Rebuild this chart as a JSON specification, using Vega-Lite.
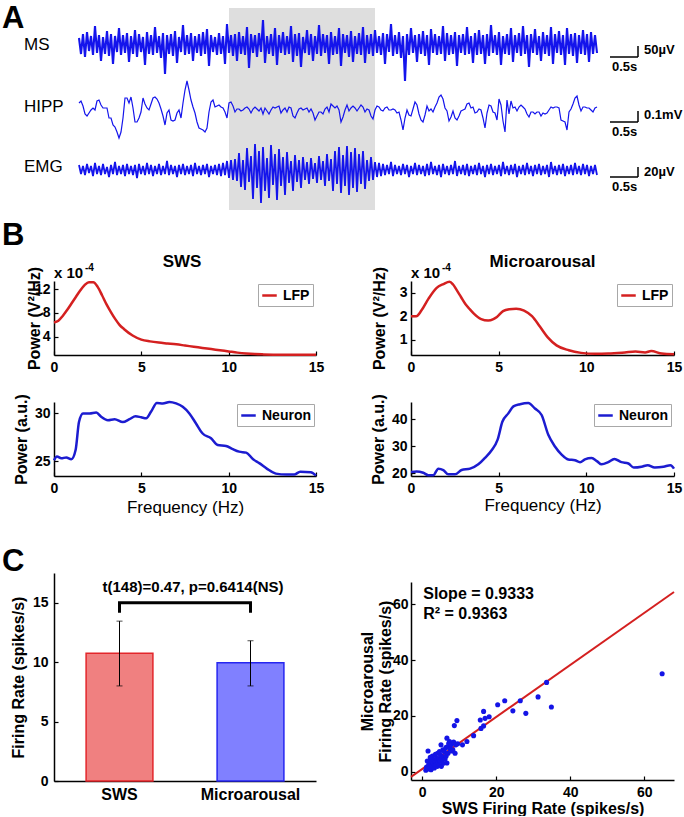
{
"$schema":"https://vega.github.io/schema/vega-lite/v6.json",
"padding":0,
"background":"white",
"config":{
 "font":"Liberation Sans",
 "view":{"stroke":null},
 "axis":{"domainColor":"black","domainWidth":1.5,"tickColor":"black","tickWidth":1.2,"tickSize":-4,"labelColor":"black","labelFontSize":14,"labelFontWeight":"bold","labelFlush":false,"labelOverlap":false,"titleColor":"black","titleFontSize":16,"titleFontWeight":"bold","grid":false},
 "legend":{"symbolType":"stroke","symbolStrokeWidth":2.5,"symbolSize":210,"labelFontSize":14,"labelFontWeight":"bold","labelColor":"black","padding":3,"strokeColor":"#a8a8a8","fillColor":"white","labelOffset":5,"cornerRadius":0}
},
"datasets":{"traces":[
{"i":0,"m":17.2,"h":10.7,"e":4.5},{"i":1,"m":15.6,"h":10.9,"e":3.6},{"i":2,"m":17.6,"h":10.4,"e":4.4},{"i":3,"m":15.3,"h":9.6,"e":3.5},{"i":4,"m":17.8,"h":9.4,"e":4.6},{"i":5,"m":15.9,"h":9.7,"e":3.7},{"i":6,"m":17.4,"h":10.0,"e":4.4},{"i":7,"m":15.5,"h":10.2,"e":3.4},{"i":8,"m":18.4,"h":10.0,"e":4.7},{"i":9,"m":15.7,"h":10.9,"e":3.6},
{"i":10,"m":17.5,"h":11.0,"e":4.4},{"i":11,"m":14.9,"h":10.5,"e":3.5},{"i":12,"m":17.3,"h":10.2,"e":4.6},{"i":13,"m":15.6,"h":10.2,"e":3.6},{"i":14,"m":17.9,"h":10.2,"e":4.3},{"i":15,"m":15.4,"h":9.2,"e":3.3},{"i":16,"m":17.6,"h":9.2,"e":4.5},{"i":17,"m":14.6,"h":8.5,"e":3.6},{"i":18,"m":17.4,"h":8.3,"e":4.8},{"i":19,"m":15.8,"h":7.8,"e":3.5},
{"i":20,"m":18.2,"h":7.2,"e":4.4},{"i":21,"m":15.5,"h":7.8,"e":3.6},{"i":22,"m":17.5,"h":9.2,"e":4.5},{"i":23,"m":15.7,"h":11.2,"e":3.4},{"i":24,"m":17.7,"h":11.2,"e":4.6},{"i":25,"m":14.8,"h":10.7,"e":3.6},{"i":26,"m":17.4,"h":11.3,"e":4.4},{"i":27,"m":15.6,"h":10.2,"e":3.5},{"i":28,"m":18.0,"h":8.8,"e":4.5},{"i":29,"m":15.3,"h":8.8,"e":3.2},
{"i":30,"m":17.6,"h":9.2,"e":4.6},{"i":31,"m":15.8,"h":9.8,"e":3.6},{"i":32,"m":17.3,"h":11.2,"e":4.4},{"i":33,"m":14.5,"h":10.6,"e":3.5},{"i":34,"m":17.8,"h":10.2,"e":4.7},{"i":35,"m":15.6,"h":10.0,"e":3.6},{"i":36,"m":17.5,"h":10.6,"e":4.5},{"i":37,"m":15.5,"h":11.2,"e":3.4},{"i":38,"m":18.3,"h":11.3,"e":4.4},{"i":39,"m":15.7,"h":11.1,"e":3.6},
{"i":40,"m":17.4,"h":10.7,"e":4.6},{"i":41,"m":15.2,"h":10.1,"e":3.5},{"i":42,"m":17.7,"h":9.4,"e":4.4},{"i":43,"m":13.6,"h":8.5,"e":3.6},{"i":44,"m":17.5,"h":9.7,"e":4.9},{"i":45,"m":15.6,"h":10.0,"e":3.5},{"i":46,"m":17.6,"h":9.0,"e":4.5},{"i":47,"m":15.4,"h":8.9,"e":3.6},{"i":48,"m":17.9,"h":9.0,"e":4.4},{"i":49,"m":14.7,"h":9.7,"e":3.3},
{"i":50,"m":17.3,"h":10.0,"e":4.5},{"i":51,"m":15.8,"h":9.2,"e":3.6},{"i":52,"m":18.5,"h":10.7,"e":4.6},{"i":53,"m":15.5,"h":12.0,"e":3.5},{"i":54,"m":17.5,"h":12.9,"e":4.4},{"i":55,"m":15.6,"h":12.0,"e":3.6},{"i":56,"m":17.7,"h":11.0,"e":4.5},{"i":57,"m":14.9,"h":10.3,"e":3.4},{"i":58,"m":17.4,"h":9.7,"e":4.7},{"i":59,"m":15.7,"h":8.8,"e":3.6},
{"i":60,"m":17.6,"h":8.2,"e":4.4},{"i":61,"m":15.4,"h":8.1,"e":3.5},{"i":62,"m":17.8,"h":8.0,"e":4.5},{"i":63,"m":15.6,"h":7.8,"e":3.6},{"i":64,"m":18.1,"h":8.2,"e":4.6},{"i":65,"m":14.4,"h":9.8,"e":3.3},{"i":66,"m":17.5,"h":10.8,"e":4.4},{"i":67,"m":15.8,"h":11.0,"e":3.6},{"i":68,"m":17.3,"h":10.3,"e":4.5},{"i":69,"m":15.5,"h":10.4,"e":3.5},
{"i":70,"m":17.7,"h":10.5,"e":4.6},{"i":71,"m":15.6,"h":10.3,"e":3.4},{"i":72,"m":17.4,"h":10.2,"e":4.7},{"i":73,"m":14.6,"h":9.8,"e":3.5},{"i":74,"m":18.6,"h":9.2,"e":4.9},{"i":75,"m":15.7,"h":10.7,"e":3.2},{"i":76,"m":17.5,"h":10.8,"e":5.0},{"i":77,"m":15.4,"h":10.4,"e":3.0},{"i":78,"m":17.6,"h":9.8,"e":5.1},{"i":79,"m":14.9,"h":10.1,"e":2.9},
{"i":80,"m":17.8,"h":10.1,"e":5.7},{"i":81,"m":15.6,"h":9.9,"e":2.3},{"i":82,"m":17.4,"h":10.0,"e":5.0},{"i":83,"m":15.5,"h":10.2,"e":2.0},{"i":84,"m":18.3,"h":10.3,"e":6.2},{"i":85,"m":14.2,"h":10.1,"e":2.8},{"i":86,"m":17.6,"h":9.7,"e":5.4},{"i":87,"m":15.7,"h":10.1,"e":1.1},{"i":88,"m":17.5,"h":10.3,"e":6.6},{"i":89,"m":15.3,"h":10.1,"e":2.2},
{"i":90,"m":17.7,"h":9.9,"e":5.9},{"i":91,"m":15.8,"h":10.2,"e":0.7},{"i":92,"m":19.0,"h":9.6,"e":6.3},{"i":93,"m":14.7,"h":10.2,"e":1.9},{"i":94,"m":17.4,"h":9.9,"e":5.2},{"i":95,"m":15.6,"h":9.6,"e":1.2},{"i":96,"m":17.6,"h":10.0,"e":6.5},{"i":97,"m":15.4,"h":10.3,"e":2.5},{"i":98,"m":18.2,"h":10.2,"e":5.6},{"i":99,"m":14.5,"h":10.3,"e":1.0},
{"i":100,"m":17.5,"h":10.4,"e":6.1},{"i":101,"m":15.7,"h":9.7,"e":2.4},{"i":102,"m":17.8,"h":10.0,"e":5.3},{"i":103,"m":15.5,"h":10.2,"e":1.5},{"i":104,"m":17.4,"h":9.8,"e":5.8},{"i":105,"m":15.6,"h":10.3,"e":2.7},{"i":106,"m":18.4,"h":10.2,"e":4.9},{"i":107,"m":14.8,"h":9.4,"e":1.9},{"i":108,"m":17.6,"h":9.2,"e":5.5},{"i":109,"m":15.4,"h":9.7,"e":2.8},
{"i":110,"m":17.7,"h":10.1,"e":5.0},{"i":111,"m":14.3,"h":10.2,"e":2.2},{"i":112,"m":17.3,"h":10.0,"e":5.3},{"i":113,"m":15.7,"h":10.1,"e":3.0},{"i":114,"m":18.0,"h":10.2,"e":4.8},{"i":115,"m":15.5,"h":9.8,"e":2.6},{"i":116,"m":17.6,"h":10.1,"e":5.2},{"i":117,"m":14.9,"h":9.7,"e":3.1},{"i":118,"m":17.4,"h":9.0,"e":4.7},{"i":119,"m":15.6,"h":9.4,"e":2.7},
{"i":120,"m":18.5,"h":9.8,"e":5.4},{"i":121,"m":15.4,"h":9.8,"e":3.0},{"i":122,"m":17.6,"h":9.6,"e":4.9},{"i":123,"m":15.7,"h":10.1,"e":2.4},{"i":124,"m":17.5,"h":10.3,"e":5.6},{"i":125,"m":14.6,"h":9.8,"e":2.9},{"i":126,"m":17.8,"h":10.6,"e":5.1},{"i":127,"m":15.5,"h":10.4,"e":1.9},{"i":128,"m":17.4,"h":10.2,"e":5.9},{"i":129,"m":15.6,"h":10.4,"e":2.6},
{"i":130,"m":18.2,"h":10.0,"e":6.3},{"i":131,"m":14.4,"h":8.8,"e":1.7},{"i":132,"m":17.6,"h":9.3,"e":5.5},{"i":133,"m":15.7,"h":10.0,"e":2.4},{"i":134,"m":17.5,"h":10.5,"e":6.4},{"i":135,"m":15.3,"h":9.9,"e":1.5},{"i":136,"m":17.9,"h":10.2,"e":5.8},{"i":137,"m":14.8,"h":10.4,"e":2.2},{"i":138,"m":17.4,"h":10.2,"e":6.2},{"i":139,"m":15.6,"h":9.9,"e":1.8},
{"i":140,"m":17.7,"h":10.2,"e":5.6},{"i":141,"m":15.5,"h":10.5,"e":2.6},{"i":142,"m":18.3,"h":10.3,"e":5.9},{"i":143,"m":14.7,"h":9.8,"e":2.1},{"i":144,"m":17.5,"h":10.1,"e":5.0},{"i":145,"m":15.6,"h":10.0,"e":2.9},{"i":146,"m":17.6,"h":9.4,"e":5.3},{"i":147,"m":15.4,"h":9.1,"e":3.0},{"i":148,"m":18.0,"h":10.0,"e":4.8},{"i":149,"m":15.7,"h":10.4,"e":3.3},
{"i":150,"m":17.4,"h":10.3,"e":4.7},{"i":151,"m":15.5,"h":10.0,"e":3.4},{"i":152,"m":17.7,"h":9.9,"e":4.6},{"i":153,"m":14.6,"h":10.2,"e":3.5},{"i":154,"m":17.6,"h":10.3,"e":4.5},{"i":155,"m":15.8,"h":10.0,"e":3.6},{"i":156,"m":18.6,"h":10.0,"e":4.8},{"i":157,"m":15.4,"h":10.1,"e":3.4},{"i":158,"m":17.5,"h":10.0,"e":4.5},{"i":159,"m":15.6,"h":9.7,"e":3.6},
{"i":160,"m":17.8,"h":9.8,"e":4.4},{"i":161,"m":15.2,"h":9.0,"e":3.5},{"i":162,"m":17.4,"h":8.0,"e":4.6},{"i":163,"m":12.9,"h":9.2,"e":3.6},{"i":164,"m":17.6,"h":10.0,"e":4.5},{"i":165,"m":15.5,"h":9.5,"e":3.3},{"i":166,"m":18.2,"h":9.4,"e":4.4},{"i":167,"m":15.7,"h":10.1,"e":3.6},{"i":168,"m":17.5,"h":10.8,"e":4.7},{"i":169,"m":14.8,"h":10.5,"e":3.5},
{"i":170,"m":17.6,"h":9.6,"e":4.5},{"i":171,"m":15.6,"h":9.0,"e":3.6},{"i":172,"m":17.9,"h":8.8,"e":4.4},{"i":173,"m":15.4,"h":9.5,"e":3.4},{"i":174,"m":17.5,"h":10.4,"e":4.6},{"i":175,"m":14.5,"h":9.9,"e":3.5},{"i":176,"m":18.1,"h":10.1,"e":4.8},{"i":177,"m":15.7,"h":9.8,"e":3.6},{"i":178,"m":17.6,"h":10.3,"e":4.4},{"i":179,"m":15.5,"h":10.7,"e":3.5},
{"i":180,"m":17.4,"h":11.3,"e":4.5},{"i":181,"m":15.6,"h":11.5,"e":3.3},{"i":182,"m":18.4,"h":11.1,"e":4.6},{"i":183,"m":14.9,"h":10.2,"e":3.6},{"i":184,"m":17.7,"h":9.9,"e":4.4},{"i":185,"m":15.5,"h":8.9,"e":3.5},{"i":186,"m":17.5,"h":9.3,"e":4.5},{"i":187,"m":15.6,"h":9.9,"e":3.6},{"i":188,"m":17.8,"h":9.2,"e":4.9},{"i":189,"m":14.4,"h":9.0,"e":3.4},
{"i":190,"m":17.5,"h":9.4,"e":4.4},{"i":191,"m":15.7,"h":9.9,"e":3.6},{"i":192,"m":17.6,"h":10.0,"e":4.5},{"i":193,"m":15.5,"h":10.1,"e":3.5},{"i":194,"m":18.3,"h":10.6,"e":4.6},{"i":195,"m":15.6,"h":10.7,"e":3.4},{"i":196,"m":17.4,"h":10.2,"e":4.4},{"i":197,"m":14.7,"h":10.3,"e":3.6},{"i":198,"m":17.7,"h":9.7,"e":4.5},{"i":199,"m":15.5,"h":9.8,"e":3.5},
{"i":200,"m":18.0,"h":10.1,"e":4.7},{"i":201,"m":15.6,"h":10.0,"e":3.6},{"i":202,"m":17.5,"h":9.2,"e":4.4},{"i":203,"m":14.6,"h":8.2,"e":3.3},{"i":204,"m":17.6,"h":9.7,"e":4.5},{"i":205,"m":15.4,"h":10.5,"e":3.6},{"i":206,"m":18.5,"h":10.4,"e":4.6},{"i":207,"m":15.7,"h":9.8,"e":3.5},{"i":208,"m":17.5,"h":9.7,"e":4.4},{"i":209,"m":15.5,"h":9.0,"e":3.6},
{"i":210,"m":17.8,"h":11.1,"e":4.5},{"i":211,"m":14.5,"h":10.5,"e":3.4},{"i":212,"m":17.4,"h":8.9,"e":4.8},{"i":213,"m":15.6,"h":7.8,"e":3.6},{"i":214,"m":17.6,"h":11.0,"e":4.4},{"i":215,"m":15.5,"h":9.6,"e":3.5},{"i":216,"m":18.2,"h":10.9,"e":4.5},{"i":217,"m":14.8,"h":10.2,"e":3.6},{"i":218,"m":17.5,"h":10.3,"e":4.6},{"i":219,"m":15.7,"h":9.9,"e":3.3},
{"i":220,"m":17.7,"h":10.3,"e":4.4},{"i":221,"m":15.4,"h":10.5,"e":3.6},{"i":222,"m":18.4,"h":10.3,"e":4.5},{"i":223,"m":15.6,"h":10.1,"e":3.5},{"i":224,"m":17.5,"h":9.6,"e":4.7},{"i":225,"m":14.3,"h":9.3,"e":3.6},{"i":226,"m":17.6,"h":9.8,"e":4.4},{"i":227,"m":15.7,"h":9.8,"e":3.4},{"i":228,"m":18.1,"h":9.6,"e":4.5},{"i":229,"m":15.5,"h":9.8,"e":3.6},
{"i":230,"m":17.4,"h":9.8,"e":4.6},{"i":231,"m":14.9,"h":9.4,"e":3.5},{"i":232,"m":17.8,"h":9.7,"e":4.4},{"i":233,"m":15.6,"h":9.6,"e":3.6},{"i":234,"m":17.5,"h":9.7,"e":4.5},{"i":235,"m":15.4,"h":10.0,"e":3.3},{"i":236,"m":18.3,"h":10.3,"e":4.8},{"i":237,"m":14.6,"h":10.2,"e":3.6},{"i":238,"m":17.6,"h":10.3,"e":4.4},{"i":239,"m":15.7,"h":10.3,"e":3.5},
{"i":240,"m":17.9,"h":10.2,"e":4.5},{"i":241,"m":15.5,"h":9.0,"e":3.6},{"i":242,"m":17.5,"h":8.9,"e":4.6},{"i":243,"m":14.5,"h":8.8,"e":3.4},{"i":244,"m":18.2,"h":8.0,"e":4.4},{"i":245,"m":15.6,"h":9.8,"e":3.6},{"i":246,"m":17.6,"h":10.1,"e":4.5},{"i":247,"m":15.4,"h":10.6,"e":3.5},{"i":248,"m":17.7,"h":11.2,"e":4.7},{"i":249,"m":14.7,"h":11.4,"e":3.6},
{"i":250,"m":17.5,"h":10.5,"e":4.4},{"i":251,"m":15.6,"h":9.9,"e":3.5},{"i":252,"m":18.0,"h":10.3,"e":4.6},{"i":253,"m":15.5,"h":10.3,"e":3.6},{"i":254,"m":17.6,"h":10.2,"e":4.5},{"i":255,"m":14.8,"h":10.2,"e":3.4},{"i":256,"m":17.8,"h":10.0,"e":4.4},{"i":257,"m":15.6,"h":9.8,"e":3.6},{"i":258,"m":17.5,"h":10.2,"e":4.5},{"i":259,"m":15.7,"h":10.3,"e":3.5}
]},
"columns":4,
"align":"each",
"bounds":"flush",
"spacing":0,
"resolve":{"scale":{"color":"independent","fill":"independent","stroke":"independent"}},
"concat":[
 {"width":54,"height":210,
  "layer":[
   {"data":{"values":[{"i0":75,"i1":148,"y0":0,"y1":20.2}]},"mark":{"type":"rect","color":"#dedede"},
    "encoding":{"x":{"field":"i0","type":"quantitative","scale":{"domain":[-39.5,302.5],"range":[0,684],"nice":false,"zero":false},"axis":null},"x2":{"field":"i1"},"y":{"field":"y0","type":"quantitative","scale":{"domain":[0,21],"nice":false,"zero":false},"axis":null},"y2":{"field":"y1"}}},
   {"data":{"name":"traces"},"mark":{"type":"line","color":"#1414ec","strokeWidth":2.1},"encoding":{"x":{"field":"i","type":"quantitative","axis":null},"y":{"field":"m","type":"quantitative","axis":null}}},
   {"data":{"name":"traces"},"mark":{"type":"line","color":"#1414ec","strokeWidth":1.2},"encoding":{"x":{"field":"i","type":"quantitative","axis":null},"y":{"field":"h","type":"quantitative","axis":null}}},
   {"data":{"name":"traces"},"mark":{"type":"line","color":"#1414ec","strokeWidth":1.8},"encoding":{"x":{"field":"i","type":"quantitative","axis":null},"y":{"field":"e","type":"quantitative","axis":null}}},
   {"data":{"values":[{"lab":"A","i":-38.5,"y":18.2}]},"mark":{"type":"text","align":"left","baseline":"alphabetic","fontSize":31,"fontWeight":"bold","color":"black"},"encoding":{"x":{"field":"i","type":"quantitative","axis":null},"y":{"field":"y","type":"quantitative","axis":null},"text":{"field":"lab"}}},
   {"data":{"values":[{"lab":"MS","i":-27.5,"y":16.5},{"lab":"HIPP","i":-27.5,"y":10.3},{"lab":"EMG","i":-27.5,"y":4.3}]},"mark":{"type":"text","align":"left","baseline":"middle","fontSize":17,"color":"black"},"encoding":{"x":{"field":"i","type":"quantitative","axis":null},"y":{"field":"y","type":"quantitative","axis":null},"text":{"field":"lab"}}},
   {"data":{"values":[{"x0":265.5,"x1":279.5,"y0":15.3,"y1":15.3},{"x0":279.5,"x1":279.5,"y0":15.3,"y1":16.4},{"x0":265.5,"x1":279.5,"y0":8.8,"y1":8.8},{"x0":279.5,"x1":279.5,"y0":8.8,"y1":9.9},{"x0":265.5,"x1":279.5,"y0":3.3,"y1":3.3},{"x0":279.5,"x1":279.5,"y0":3.3,"y1":4.3}]},"mark":{"type":"rule","color":"black","strokeWidth":1.5},"encoding":{"x":{"field":"x0","type":"quantitative","axis":null},"x2":{"field":"x1"},"y":{"field":"y0","type":"quantitative","axis":null},"y2":{"field":"y1"}}},
   {"data":{"values":[{"t":"50µV","i":282.5,"y":16.0},{"t":"0.5s","i":266.5,"y":14.3},{"t":"0.1mV","i":282.5,"y":9.5},{"t":"0.5s","i":266.5,"y":7.8},{"t":"20µV","i":282.5,"y":3.8},{"t":"0.5s","i":266.5,"y":2.3}]},"mark":{"type":"text","align":"left","baseline":"middle","fontSize":13,"fontWeight":"bold","color":"black"},"encoding":{"x":{"field":"i","type":"quantitative","axis":null},"y":{"field":"y","type":"quantitative","axis":null},"text":{"field":"t"}}}
  ]},
 {"width":1,"height":1,"data":{"values":[{}]},"mark":{"type":"point","opacity":0,"size":0}},
 {"width":95,"height":1,"data":{"values":[{}]},"mark":{"type":"point","opacity":0,"size":0}},
 {"width":1,"height":1,"data":{"values":[{}]},"mark":{"type":"point","opacity":0,"size":0}},

 {"width":1,"height":71,"data":{"values":[{}]},"mark":{"type":"point","opacity":0,"size":0}},
 {"width":1,"height":1,"data":{"values":[{}]},"mark":{"type":"point","opacity":0,"size":0}},
 {"width":1,"height":1,"data":{"values":[{}]},"mark":{"type":"point","opacity":0,"size":0}},
 {"width":1,"height":1,"data":{"values":[{}]},"mark":{"type":"point","opacity":0,"size":0}},

 {"width":1,"height":1,"data":{"values":[{}]},"mark":{"type":"point","opacity":0,"size":0}},
 {"width":262,"height":74,
  "encoding":{
   "x":{"field":"f","type":"quantitative","scale":{"domain":[0,15],"nice":false},"axis":{"values":[0,5,10,15],"title":null,"labelPadding":9}},
   "y":{"field":"v","type":"quantitative","scale":{"domain":[0.9,13.4],"nice":false,"zero":false},"axis":{"values":[4,8,12],"title":"Power (V²/Hz)","labelPadding":8,"titleX":-20,"titleBaseline":"middle"}}},
  "layer":[
   {"data":{"values":[{"f":0,"v":6.4},{"f":0.25,"v":6.7},{"f":0.5,"v":7.5},{"f":0.75,"v":8.5},{"f":1,"v":9.6},{"f":1.25,"v":10.7},{"f":1.5,"v":11.8},{"f":1.75,"v":12.7},{"f":2,"v":13.2},{"f":2.25,"v":13.2},{"f":2.5,"v":12.4},{"f":2.75,"v":11.0},{"f":3,"v":9.5},{"f":3.25,"v":8.2},{"f":3.5,"v":7.0},{"f":3.75,"v":6.0},{"f":4,"v":5.3},{"f":4.5,"v":4.2},{"f":5,"v":3.5},{"f":5.5,"v":3.2},{"f":6,"v":3.0},{"f":6.5,"v":2.85},{"f":7,"v":2.7},{"f":7.5,"v":2.5},{"f":8,"v":2.3},{"f":8.5,"v":2.1},{"f":9,"v":1.9},{"f":9.5,"v":1.7},{"f":10,"v":1.5},{"f":10.5,"v":1.3},{"f":11,"v":1.15},{"f":11.5,"v":1.05},{"f":12,"v":1.0},{"f":13,"v":0.95},{"f":14,"v":0.95},{"f":15,"v":0.95}]},
    "mark":{"type":"line","strokeWidth":2.5,"interpolate":"monotone"},
    "encoding":{"color":{"datum":"LFP","scale":{"range":["#d42020"]},"legend":{"orient":"none","legendX":204,"legendY":3,"title":null}}}},
   {"data":{"values":[{"t":"B","f":-2.98,"v":19.48}]},"mark":{"type":"text","align":"left","baseline":"alphabetic","fontSize":31,"fontWeight":"bold","color":"black"},"encoding":{"text":{"field":"t"}}},
   {"data":{"values":[{"t":"SWS","f":7.33,"v":15.76}]},"mark":{"type":"text","align":"center","baseline":"alphabetic","fontSize":17,"fontWeight":"bold","color":"black"},"encoding":{"text":{"field":"t"}}},
   {"data":{"values":[{"t":"x 10","f":0,"v":13.4}]},"mark":{"type":"text","align":"left","baseline":"alphabetic","dy":-3,"fontSize":15,"fontWeight":"bold","color":"black"},"encoding":{"text":{"field":"t"}}},
   {"data":{"values":[{"t":"-4","f":0,"v":13.4}]},"mark":{"type":"text","align":"left","baseline":"alphabetic","dx":31,"dy":-10,"fontSize":10,"fontWeight":"bold","color":"black"},"encoding":{"text":{"field":"t"}}}
  ]},
 {"width":95,"height":1,"data":{"values":[{}]},"mark":{"type":"point","opacity":0,"size":0}},
 {"width":263,"height":74,
  "encoding":{
   "x":{"field":"f","type":"quantitative","scale":{"domain":[0,15],"nice":false},"axis":{"values":[0,5,10,15],"title":null,"labelPadding":9}},
   "y":{"field":"v","type":"quantitative","scale":{"domain":[0.35,3.5],"nice":false,"zero":false},"axis":{"values":[1,2,3],"title":"Power (V²/Hz)","labelPadding":8,"titleX":-32,"titleBaseline":"middle"}}},
  "layer":[
   {"data":{"values":[{"f":0,"v":2.0},{"f":0.3,"v":2.0},{"f":0.6,"v":2.25},{"f":1.0,"v":2.75},{"f":1.45,"v":3.2},{"f":1.85,"v":3.37},{"f":2.2,"v":3.47},{"f":2.4,"v":3.35},{"f":2.6,"v":3.12},{"f":2.85,"v":2.82},{"f":3.1,"v":2.52},{"f":3.35,"v":2.3},{"f":3.6,"v":2.1},{"f":4.0,"v":1.88},{"f":4.4,"v":1.82},{"f":4.7,"v":1.88},{"f":4.9,"v":1.97},{"f":5.25,"v":2.22},{"f":5.6,"v":2.3},{"f":6.0,"v":2.32},{"f":6.45,"v":2.24},{"f":6.9,"v":2.0},{"f":7.35,"v":1.56},{"f":7.8,"v":1.1},{"f":8.3,"v":0.76},{"f":9.0,"v":0.55},{"f":9.7,"v":0.44},{"f":10.5,"v":0.4},{"f":11.25,"v":0.41},{"f":12.2,"v":0.46},{"f":12.8,"v":0.5},{"f":13.35,"v":0.46},{"f":13.7,"v":0.52},{"f":14.3,"v":0.41},{"f":15,"v":0.38}]},
    "mark":{"type":"line","strokeWidth":2.5,"interpolate":"monotone"},
    "encoding":{"color":{"datum":"LFP","scale":{"range":["#d42020"]},"legend":{"orient":"none","legendX":206,"legendY":3,"title":null}}}},
   {"data":{"values":[{"t":"Microarousal","f":7.5,"v":4.1}]},"mark":{"type":"text","align":"center","baseline":"alphabetic","fontSize":17,"fontWeight":"bold","color":"black"},"encoding":{"text":{"field":"t"}}},
   {"data":{"values":[{"t":"x 10","f":0,"v":3.5}]},"mark":{"type":"text","align":"left","baseline":"alphabetic","dy":-3,"fontSize":15,"fontWeight":"bold","color":"black"},"encoding":{"text":{"field":"t"}}},
   {"data":{"values":[{"t":"-4","f":0,"v":3.5}]},"mark":{"type":"text","align":"left","baseline":"alphabetic","dx":31,"dy":-10,"fontSize":10,"fontWeight":"bold","color":"black"},"encoding":{"text":{"field":"t"}}}
  ]},

 {"width":1,"height":47,"data":{"values":[{}]},"mark":{"type":"point","opacity":0,"size":0}},
 {"width":1,"height":1,"data":{"values":[{}]},"mark":{"type":"point","opacity":0,"size":0}},
 {"width":1,"height":1,"data":{"values":[{}]},"mark":{"type":"point","opacity":0,"size":0}},
 {"width":1,"height":1,"data":{"values":[{}]},"mark":{"type":"point","opacity":0,"size":0}},

 {"width":1,"height":1,"data":{"values":[{}]},"mark":{"type":"point","opacity":0,"size":0}},
 {"width":262,"height":74,
  "encoding":{
   "x":{"field":"f","type":"quantitative","scale":{"domain":[0,15],"nice":false},"axis":{"values":[0,5,10,15],"title":"Frequency (Hz)","labelPadding":9,"titleFontWeight":"normal","titleFontSize":17,"titleY":36,"titleBaseline":"alphabetic"}},
   "y":{"field":"v","type":"quantitative","scale":{"domain":[23.45,31.2],"nice":false,"zero":false},"axis":{"values":[25,30],"title":"Power (a.u.)","labelPadding":8,"titleX":-33,"titleBaseline":"middle"}}},
  "layer":[
   {"data":{"values":[{"f":0,"v":25.1},{"f":0.17,"v":25.5},{"f":0.42,"v":25.3},{"f":0.7,"v":25.4},{"f":0.99,"v":25.2},{"f":1.24,"v":26.2},{"f":1.43,"v":29.1},{"f":1.66,"v":30.0},{"f":2.04,"v":30.0},{"f":2.42,"v":30.1},{"f":2.7,"v":29.65},{"f":3.09,"v":29.3},{"f":3.47,"v":29.4},{"f":3.94,"v":29.1},{"f":4.32,"v":29.4},{"f":4.67,"v":29.7},{"f":4.99,"v":29.6},{"f":5.28,"v":29.5},{"f":5.56,"v":30.2},{"f":5.89,"v":31.1},{"f":6.23,"v":31.05},{"f":6.61,"v":31.2},{"f":6.99,"v":31.05},{"f":7.37,"v":30.7},{"f":7.75,"v":30.0},{"f":8.13,"v":28.95},{"f":8.51,"v":27.9},{"f":8.99,"v":27.4},{"f":9.37,"v":26.7},{"f":9.85,"v":26.6},{"f":10.2,"v":26.3},{"f":10.6,"v":26.0},{"f":11.0,"v":25.9},{"f":11.4,"v":25.2},{"f":11.75,"v":24.8},{"f":12.2,"v":24.2},{"f":12.7,"v":23.7},{"f":13.3,"v":23.6},{"f":13.75,"v":23.6},{"f":14.1,"v":23.9},{"f":14.7,"v":23.85},{"f":15,"v":23.5}]},
    "mark":{"type":"line","strokeWidth":2.5,"interpolate":"monotone"},
    "encoding":{"color":{"datum":"Neuron","scale":{"range":["#1c1cd0"]},"legend":{"orient":"none","legendX":183,"legendY":2,"title":null}}}}
  ]},
 {"width":1,"height":1,"data":{"values":[{}]},"mark":{"type":"point","opacity":0,"size":0}},
 {"width":263,"height":74,
  "encoding":{
   "x":{"field":"f","type":"quantitative","scale":{"domain":[0,15],"nice":false},"axis":{"values":[0,5,10,15],"title":"Frequency (Hz)","labelPadding":9,"titleFontWeight":"normal","titleFontSize":17,"titleY":34,"titleBaseline":"alphabetic"}},
   "y":{"field":"v","type":"quantitative","scale":{"domain":[19,46.3],"nice":false,"zero":false},"axis":{"values":[20,30,40],"title":"Power (a.u.)","labelPadding":8,"titleX":-33,"titleBaseline":"middle"}}},
  "layer":[
   {"data":{"values":[{"f":0,"v":20.5},{"f":0.32,"v":20.7},{"f":0.7,"v":20.2},{"f":0.99,"v":19.3},{"f":1.27,"v":19.3},{"f":1.56,"v":21.7},{"f":1.84,"v":21.2},{"f":2.13,"v":19.6},{"f":2.51,"v":19.6},{"f":2.89,"v":21.2},{"f":3.37,"v":21.7},{"f":3.84,"v":23.3},{"f":4.22,"v":25.7},{"f":4.6,"v":28.5},{"f":4.94,"v":32.4},{"f":5.21,"v":39.0},{"f":5.55,"v":42.1},{"f":5.84,"v":44.7},{"f":6.22,"v":45.5},{"f":6.69,"v":45.9},{"f":7.07,"v":43.9},{"f":7.45,"v":41.5},{"f":7.83,"v":34.2},{"f":8.21,"v":29.9},{"f":8.59,"v":26.9},{"f":8.97,"v":25.1},{"f":9.35,"v":24.8},{"f":9.64,"v":24.1},{"f":9.92,"v":25.1},{"f":10.3,"v":25.6},{"f":10.6,"v":24.5},{"f":10.87,"v":23.3},{"f":11.25,"v":24.1},{"f":11.6,"v":25.3},{"f":12.0,"v":24.1},{"f":12.4,"v":23.6},{"f":12.7,"v":22.1},{"f":13.15,"v":22.4},{"f":13.5,"v":23.0},{"f":13.9,"v":22.1},{"f":14.4,"v":22.4},{"f":14.8,"v":23.0},{"f":15,"v":21.7}]},
    "mark":{"type":"line","strokeWidth":2.5,"interpolate":"monotone"},
    "encoding":{"color":{"datum":"Neuron","scale":{"range":["#1c1cd0"]},"legend":{"orient":"none","legendX":183,"legendY":2,"title":null}}}}
  ]},

 {"width":1,"height":97,"data":{"values":[{}]},"mark":{"type":"point","opacity":0,"size":0}},
 {"width":1,"height":1,"data":{"values":[{}]},"mark":{"type":"point","opacity":0,"size":0}},
 {"width":1,"height":1,"data":{"values":[{}]},"mark":{"type":"point","opacity":0,"size":0}},
 {"width":1,"height":1,"data":{"values":[{}]},"mark":{"type":"point","opacity":0,"size":0}},

 {"width":1,"height":1,"data":{"values":[{}]},"mark":{"type":"point","opacity":0,"size":0}},
 {"width":262,"height":208,
  "data":{"values":[{"cond":"SWS","rate":10.75,"lo":8.0,"hi":13.45},{"cond":"Microarousal","rate":9.95,"lo":8.0,"hi":11.8}]},
  "encoding":{
    "x":{"field":"cond","type":"nominal","scale":{"domain":["SWS","Microarousal"],"paddingInner":0.49,"paddingOuter":0.245},"axis":{"title":null,"ticks":false,"labelAngle":0,"labelFontSize":16,"labelPadding":5}},
    "y":{"field":"rate","type":"quantitative","scale":{"domain":[0,17.5],"nice":false},"axis":{"values":[0,5,10,15],"title":"Firing Rate (spikes/s)","labelPadding":10,"titleX":-36,"titleBaseline":"middle"}}},
  "layer":[
   {"mark":{"type":"bar","strokeWidth":1.5},"encoding":{
     "fill":{"field":"cond","type":"nominal","scale":{"domain":["SWS","Microarousal"],"range":["#f08080","#8080ff"]},"legend":null},
     "stroke":{"field":"cond","type":"nominal","scale":{"domain":["SWS","Microarousal"],"range":["#e3262b","#2626f0"]},"legend":null}}},
   {"mark":{"type":"rule","color":"black","strokeWidth":1},"encoding":{"y":{"field":"lo","type":"quantitative","title":"Firing Rate (spikes/s)"},"y2":{"field":"hi"}}},
   {"mark":{"type":"tick","color":"black","thickness":1,"size":6},"encoding":{"y":{"field":"lo","type":"quantitative","title":"Firing Rate (spikes/s)"}}},
   {"mark":{"type":"tick","color":"black","thickness":1,"size":6},"encoding":{"y":{"field":"hi","type":"quantitative","title":"Firing Rate (spikes/s)"}}},
   {"data":{"values":[{"cond":"SWS","rate":14.15,"o":1},{"cond":"SWS","rate":15,"o":2},{"cond":"Microarousal","rate":15,"o":3},{"cond":"Microarousal","rate":14.15,"o":4}]},"mark":{"type":"line","color":"black","strokeWidth":3,"strokeJoin":"miter","strokeCap":"butt"},"encoding":{"order":{"field":"o"}}},
   {"data":{"values":[{"t":"t(148)=0.47, p=0.6414(NS)","cond":"SWS","rate":15.9}]},"mark":{"type":"text","align":"center","baseline":"alphabetic","dx":73.5,"fontSize":15,"fontWeight":"bold","color":"black"},"encoding":{"text":{"field":"t"}}},
   {"data":{"values":[{"t":"C","cond":"SWS","rate":17.67}]},"mark":{"type":"text","align":"left","baseline":"alphabetic","dx":-117.5,"fontSize":31,"fontWeight":"bold","color":"black"},"encoding":{"text":{"field":"t"}}}
  ]},
 {"width":1,"height":1,"data":{"values":[{}]},"mark":{"type":"point","opacity":0,"size":0}},
 {"width":263,"height":207,
  "encoding":{
   "x":{"field":"x","type":"quantitative","scale":{"domain":[-3,68],"nice":false,"zero":false},"axis":{"values":[0,20,40,60],"title":"SWS Firing Rate (spikes/s)","labelPadding":9,"titleY":33,"titleBaseline":"alphabetic"}},
   "y":{"field":"y","type":"quantitative","scale":{"domain":[-3,68],"range":[207,9],"nice":false,"zero":false},"axis":{"values":[0,20,40,60],"title":["Microarousal","Firing Rate (spikes/s)"],"labelPadding":7,"titleX":-44,"titleBaseline":"middle","titleLineHeight":18}}},
  "layer":[
   {"data":{"values":[{"x":-3,"y":-1.9},{"x":68,"y":64.4}]},"mark":{"type":"line","color":"#d42020","strokeWidth":2}},
   {"data":{"values":[{"x":64.8,"y":35.1},{"x":33.6,"y":32.0},{"x":31.3,"y":26.8},{"x":34.9,"y":23.2},{"x":26.5,"y":25.4},{"x":22.3,"y":25.4},{"x":20.4,"y":24.0},{"x":24.5,"y":21.8},{"x":28.0,"y":20.9},{"x":18.1,"y":19.7},{"x":16.6,"y":21.6},{"x":17.0,"y":19.1},{"x":15.7,"y":18.5},{"x":15.9,"y":15.5},{"x":16.6,"y":16.4},{"x":9.4,"y":18.3},{"x":8.7,"y":16.5},{"x":13.9,"y":12.9},{"x":12.1,"y":10.8},{"x":10.9,"y":9.6},
    {"x":1.0,"y":0.5},{"x":1.2,"y":1.6},{"x":1.5,"y":0.9},{"x":1.6,"y":7.4},{"x":1.8,"y":2.6},{"x":2.0,"y":3.3},{"x":2.1,"y":1.2},{"x":2.3,"y":4.4},{"x":2.4,"y":0.7},{"x":2.6,"y":2.0},{"x":2.8,"y":5.6},{"x":2.9,"y":1.4},{"x":3.0,"y":3.0},{"x":3.2,"y":4.2},{"x":3.3,"y":1.3},{"x":3.4,"y":2.4},{"x":3.6,"y":6.2},{"x":3.7,"y":3.6},{"x":3.8,"y":2.5},{"x":3.9,"y":4.8},{"x":4.1,"y":1.9},{"x":4.2,"y":6.6},{"x":4.3,"y":3.1},{"x":4.5,"y":4.6},{"x":4.6,"y":2.3},{"x":4.7,"y":7.2},{"x":4.9,"y":3.8},{"x":5.0,"y":5.9},{"x":5.1,"y":9.6},{"x":5.2,"y":1.9},{"x":5.4,"y":4.4},{"x":5.6,"y":7.8},{"x":5.7,"y":3.0},{"x":5.9,"y":5.3},{"x":6.0,"y":7.2},{"x":6.2,"y":4.5},{"x":6.4,"y":8.6},{"x":6.5,"y":5.6},{"x":6.7,"y":12.0},{"x":6.7,"y":3.1},{"x":6.9,"y":9.0},{"x":7.0,"y":6.6},{"x":7.2,"y":10.2},{"x":7.4,"y":10.8},{"x":7.6,"y":8.1},{"x":7.8,"y":9.6},{"x":8.0,"y":7.4},{"x":8.3,"y":7.8},{"x":8.5,"y":10.6},{"x":8.7,"y":10.2},{"x":8.9,"y":6.6},{"x":9.1,"y":9.6},{"x":9.6,"y":10.0},{"x":2.2,"y":5.1},{"x":1.4,"y":3.8}]},
    "mark":{"type":"circle","color":"#1414e6","size":26,"opacity":1}},
   {"data":{"values":[{"t":"Slope = 0.9333","x":0.3,"y":63.7},{"t":"R² = 0.9363","x":0.3,"y":56.6}]},"mark":{"type":"text","align":"left","baseline":"middle","fontSize":16,"fontWeight":"bold","color":"black"},"encoding":{"text":{"field":"t"}}}
  ]}
]
}
